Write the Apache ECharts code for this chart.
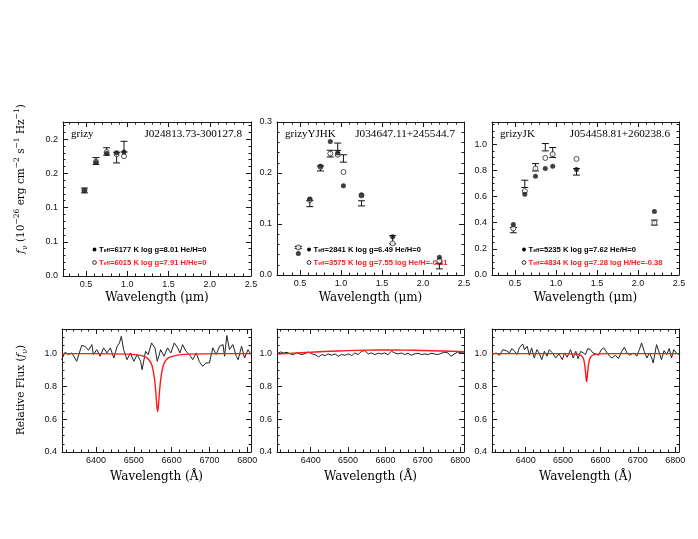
<!DOCTYPE html>
<html><head><meta charset="utf-8">
<script src="https://cdn.jsdelivr.net/npm/echarts@6/dist/echarts.min.js"></script>
<style>html,body{margin:0;padding:0;background:#fff}#c{width:698px;height:539px}</style>
</head><body><div id="c"></div>
<script>
// ---------------- DATA ----------------
// SED panels: band wavelengths (micron), observed flux, error, filled-model (H), open-model (He)
const sedBands1 = [0.48, 0.62, 0.75, 0.87, 0.96];
const sedObs1   = [0.125, 0.168, 0.182, 0.173, 0.189];
const sedErr1   = [0.0035, 0.005, 0.0054, 0.0078, 0.0078];
const sedFill1  = [0.125, 0.166, 0.179, 0.180, 0.181];
const sedOpen1  = [0.125, 0.167, 0.181, 0.178, 0.175];

const sedBands2 = [0.48, 0.62, 0.75, 0.87, 0.96, 1.03, 1.25, 1.63, 2.2];
const sedObs2   = [0.054, 0.140, 0.209, 0.238, 0.2515, 0.2285, 0.1405, 0.069, 0.017];
const sedErr2   = [0.002, 0.006, 0.005, 0.0066, 0.0072, 0.0072, 0.005, 0.008, 0.005];
const sedFill2  = [0.042, 0.149, 0.213, 0.262, 0.239, 0.175, 0.157, 0.075, 0.035];
const sedOpen2  = [0.054, 0.147, 0.212, 0.238, 0.236, 0.202, 0.156, 0.062, 0.028];

const sedBands3 = [0.48, 0.62, 0.75, 0.87, 0.96, 1.25, 2.2];
const sedObs3   = [0.343, 0.697, 0.824, 0.977, 0.937, 0.789, 0.401];
const sedErr3   = [0.020, 0.028, 0.028, 0.028, 0.038, 0.025, 0.019];
const sedFill3  = [0.387, 0.618, 0.756, 0.815, 0.832, 0.807, 0.486];
const sedOpen3  = [0.356, 0.641, 0.815, 0.895, 0.924, 0.888, 0.399];

// Spectra (Angstrom, relative flux)
const spec1Wave = [6309,6318,6327,6336,6349,6362,6371,6380,6389,6393,6402,6411,6420,6429,6438,6447,6456,6462,6467,6473,6482,6491,6500,6509,6518,6522,6531,6538,6547,6556,6562,6571,6580,6589,6598,6607,6616,6622,6629,6638,6647,6656,6665,6673,6682,6691,6700,6709,6718,6727,6736,6740,6746,6753,6762,6771,6776,6785,6793,6802,6810];
const spec1Flux = [0.963,1.008,0.994,1.004,0.953,1.049,1.045,1.020,1.055,0.994,1.024,0.984,1.035,1.004,1.035,0.973,1.045,1.065,1.106,1.024,0.963,1.004,0.953,0.994,0.953,0.902,1.014,0.994,1.065,1.035,0.953,1.024,0.984,1.035,1.004,1.065,1.035,1.004,1.055,1.014,0.994,0.963,1.004,0.953,0.922,0.943,0.943,1.035,0.994,1.045,1.055,0.984,1.11,1.024,1.055,0.984,0.963,1.045,0.973,1.024,0.994];
const model1Wave = [6310,6400,6480,6510,6525,6535,6545,6550,6555,6558,6561,6563,6565,6568,6571,6576,6581,6591,6605,6620,6650,6720,6810];
const model1Flux = [1.0,1.0,0.997,0.992,0.985,0.974,0.945,0.91,0.84,0.77,0.68,0.647,0.68,0.77,0.84,0.91,0.945,0.974,0.985,0.992,0.997,1.0,1.0];

const spec2Wave = [6310,6319,6328,6337,6345,6354,6363,6377,6385,6394,6403,6412,6421,6430,6439,6447,6456,6465,6474,6483,6492,6501,6510,6518,6527,6536,6545,6554,6563,6572,6581,6589,6598,6607,6616,6625,6634,6643,6651,6660,6669,6678,6687,6696,6705,6714,6722,6731,6740,6749,6758,6767,6775,6785,6793,6802,6809];
const spec2Flux = [0.998,1.010,1.004,1.008,0.998,0.994,1.004,0.994,1.000,1.010,0.998,0.994,0.980,0.994,0.988,0.998,0.990,0.998,0.984,0.994,0.990,0.998,0.988,1.004,0.994,1.014,1.018,0.998,1.004,0.994,1.002,0.998,1.004,0.994,1.014,1.004,0.998,1.004,0.994,1.002,0.990,0.998,1.002,0.994,0.998,0.994,1.002,0.998,0.994,1.002,1.008,1.004,0.984,0.998,1.010,1.004,1.006];
const model2Wave = [6310,6350,6400,6450,6500,6550,6600,6650,6700,6750,6810];
const model2Flux = [0.997,1.003,1.008,1.014,1.018,1.021,1.022,1.021,1.019,1.016,1.012];

const spec3Wave = [6310,6315,6321,6330,6339,6348,6357,6363,6370,6377,6383,6392,6397,6404,6410,6416,6423,6430,6436,6443,6450,6457,6463,6472,6480,6489,6498,6504,6511,6520,6527,6534,6540,6547,6554,6560,6566,6573,6580,6587,6595,6602,6609,6618,6625,6631,6640,6648,6657,6664,6671,6678,6684,6690,6697,6704,6710,6717,6724,6731,6737,6741,6750,6756,6763,6770,6777,6784,6790,6796,6803,6810];
const spec3Flux = [0.994,0.984,1.004,0.990,1.024,1.018,1.004,1.031,1.014,0.994,1.035,1.059,1.024,1.045,0.990,1.035,0.973,1.024,1.004,0.963,1.014,0.984,1.024,1.004,0.973,0.998,0.963,1.004,0.978,1.024,0.973,1.014,0.969,1.014,1.004,0.994,1.031,1.024,1.004,0.998,0.990,1.024,1.035,1.004,0.984,0.973,0.990,0.969,1.014,1.039,1.004,0.990,0.998,1.004,0.984,1.024,1.065,1.014,0.973,1.004,0.973,0.943,1.055,1.014,0.963,1.018,0.994,1.031,0.973,1.024,1.004,0.994];
const model3Wave = [6310,6500,6540,6550,6555,6558,6560,6562,6563,6564,6566,6568,6571,6576,6586,6620,6810];
const model3Flux = [1.0,1.0,0.995,0.985,0.965,0.93,0.89,0.84,0.83,0.84,0.89,0.93,0.965,0.985,0.995,1.0,1.0];

// Tick values / labels
const sedXMajor = [0.5, 1.0, 1.5, 2.0, 2.5];
const sedXLabels = ['0.5', '1.0', '1.5', '2.0', '2.5'];
const sedXMinor = [0.3,0.4,0.6,0.7,0.8,0.9,1.1,1.2,1.3,1.4,1.6,1.7,1.8,1.9,2.1,2.2,2.3,2.4];
const sed1YMajor = [0, 0.05, 0.1, 0.15, 0.2];
const sed1YLabels = ['0.0', '0.1', '0.1', '0.2', '0.2'];
const sed1YMinor = [0.01,0.02,0.03,0.04,0.06,0.07,0.08,0.09,0.11,0.12,0.13,0.14,0.16,0.17,0.18,0.19,0.21,0.22];
const sed2YMajor = [0, 0.1, 0.2, 0.3];
const sed2YLabels = ['0.0', '0.1', '0.2', '0.3'];
const sed2YMinor = [0.02,0.04,0.06,0.08,0.12,0.14,0.16,0.18,0.22,0.24,0.26,0.28];
const sed3YMajor = [0, 0.2, 0.4, 0.6, 0.8, 1.0];
const sed3YLabels = ['0.0', '0.2', '0.4', '0.6', '0.8', '1.0'];
const sed3YMinor = [0.05,0.1,0.15,0.25,0.3,0.35,0.45,0.5,0.55,0.65,0.7,0.75,0.85,0.9,0.95,1.05,1.1,1.15];
const specXMajor = [6400, 6500, 6600, 6700, 6800];
const specXLabels = ['6400', '6500', '6600', '6700', '6800'];
const specXMinor = [6320,6340,6360,6380,6420,6440,6460,6480,6520,6540,6560,6580,6620,6640,6660,6680,6720,6740,6760,6780];
const specYMajor = [0.4, 0.6, 0.8, 1.0];
const specYLabels = ['0.4', '0.6', '0.8', '1.0'];
const specYMinor = [0.45,0.5,0.55,0.65,0.7,0.75,0.85,0.9,0.95,1.05,1.1,1.15];

const panelBands = ['grizy', 'grizyYJHK', 'grizyJK'];
const panelNames = ['J024813.73-300127.8', 'J034647.11+245544.7', 'J054458.81+260238.6'];
const legendFilled = ['=6177 K log g=8.01 He/H=0', '=2841 K log g=6.49 He/H=0', '=5235 K log g=7.62 He/H=0'];
const legendOpen = ['=6015 K log g=7.91 H/He=0', '=3575 K log g=7.55 log He/H=-0.21', '=4834 K log g=7.28 log H/He=-0.38'];

// ---------------- LAYOUT ----------------
const LC = '#1a1a1a';
const TICKF = 'Liberation Sans';
const SERIF = 'DejaVu Serif';
const grids = [
  {left: 63, top: 122, width: 188, height: 154},
  {left: 277, top: 122, width: 187, height: 153},
  {left: 492, top: 122, width: 187, height: 153},
  {left: 62, top: 329, width: 189, height: 123},
  {left: 277, top: 329, width: 187, height: 123},
  {left: 492, top: 329, width: 187, height: 123}
];

function axisSet(dim, g, min, max, major, labels, minor) {
  const mainPos = dim === 'x' ? 'bottom' : 'left';
  const oppPos = dim === 'x' ? 'top' : 'right';
  const base = {type: 'value', gridIndex: g, min: min, max: max, splitLine: {show: false}, axisPointer: {show: false}};
  const fmt = function (v) {
    const i = major.findIndex(m => Math.abs(m - v) < 1e-7);
    return i >= 0 ? labels[i] : '';
  };
  return [
    Object.assign({}, base, {position: mainPos,
      axisLine: {show: true, onZero: false, lineStyle: {color: LC, width: 1}},
      axisTick: {show: true, inside: true, length: 5, customValues: major, lineStyle: {color: LC}},
      axisLabel: {show: true, customValues: major, formatter: fmt, margin: dim === 'x' ? 4 : 5,
        fontSize: 9, fontFamily: TICKF, color: '#111'}}),
    Object.assign({}, base, {position: mainPos,
      axisLine: {show: false, onZero: false},
      axisTick: {show: true, inside: true, length: 2.5, customValues: minor, lineStyle: {color: LC}},
      axisLabel: {show: false}}),
    Object.assign({}, base, {position: oppPos,
      axisLine: {show: true, onZero: false, lineStyle: {color: LC, width: 1}},
      axisTick: {show: true, inside: true, length: 5, customValues: major, lineStyle: {color: LC}},
      axisLabel: {show: false}}),
    Object.assign({}, base, {position: oppPos,
      axisLine: {show: false, onZero: false},
      axisTick: {show: true, inside: true, length: 2.5, customValues: minor, lineStyle: {color: LC}},
      axisLabel: {show: false}})
  ];
}

const xAxes = [], yAxes = [];
const sedY = [[0, 0.225, sed1YMajor, sed1YLabels, sed1YMinor], [0, 0.3, sed2YMajor, sed2YLabels, sed2YMinor], [0, 1.17, sed3YMajor, sed3YLabels, sed3YMinor]];
for (let g = 0; g < 3; g++) {
  xAxes.push(...axisSet('x', g, 0.22, 2.5, sedXMajor, sedXLabels, sedXMinor));
  yAxes.push(...axisSet('y', g, ...sedY[g]));
}
for (let g = 3; g < 6; g++) {
  xAxes.push(...axisSet('x', g, 6310, 6810, specXMajor, specXLabels, specXMinor));
  yAxes.push(...axisSet('y', g, 0.4, 1.15, specYMajor, specYLabels, specYMinor));
}

function zip(a, b) { return a.map((v, i) => [v, b[i]]); }
function zip3(a, b, c) { return a.map((v, i) => [v, b[i], c[i]]); }

function errorRender(params, api) {
  const x = api.value(0), y = api.value(1), e = api.value(2);
  const lo = api.coord([x, y - e]);
  const hi = api.coord([x, y + e]);
  const w = 3.5;
  const st = {stroke: '#111', lineWidth: 1};
  return {type: 'group', children: [
    {type: 'line', shape: {x1: lo[0], y1: lo[1], x2: hi[0], y2: hi[1]}, style: st},
    {type: 'line', shape: {x1: lo[0] - w, y1: lo[1], x2: lo[0] + w, y2: lo[1]}, style: st},
    {type: 'line', shape: {x1: hi[0] - w, y1: hi[1], x2: hi[0] + w, y2: hi[1]}, style: st}
  ]};
}

const sedSets = [
  [sedBands1, sedObs1, sedErr1, sedFill1, sedOpen1],
  [sedBands2, sedObs2, sedErr2, sedFill2, sedOpen2],
  [sedBands3, sedObs3, sedErr3, sedFill3, sedOpen3]
];
const series = [];
sedSets.forEach((s, g) => {
  const ax = {xAxisIndex: 4 * g, yAxisIndex: 4 * g};
  series.push(Object.assign({type: 'custom', renderItem: errorRender, data: zip3(s[0], s[1], s[2]),
    encode: {x: 0, y: 1}, z: 2, silent: true}, ax));
  series.push(Object.assign({type: 'scatter', data: zip(s[0], s[4]), symbol: 'circle', symbolSize: 5,
    itemStyle: {color: '#fff', borderColor: '#111', borderWidth: 0.9}, z: 3, silent: true}, ax));
  series.push(Object.assign({type: 'scatter', data: zip(s[0], s[3]), symbol: 'circle', symbolSize: 5,
    itemStyle: {color: '#111'}, z: 4, silent: true}, ax));
});
const specSets = [
  [spec1Wave, spec1Flux, model1Wave, model1Flux],
  [spec2Wave, spec2Flux, model2Wave, model2Flux],
  [spec3Wave, spec3Flux, model3Wave, model3Flux]
];
specSets.forEach((s, i) => {
  const g = i + 3;
  const ax = {xAxisIndex: 4 * g, yAxisIndex: 4 * g};
  series.push(Object.assign({type: 'line', data: zip(s[0], s[1]), showSymbol: false, clip: true,
    lineStyle: {color: '#222', width: 1}, z: 2, silent: true}, ax));
  series.push(Object.assign({type: 'line', data: zip(s[2], s[3]), showSymbol: false, smooth: 0.3, clip: true,
    lineStyle: {color: '#ff1a1a', width: 1.4}, z: 3, silent: true}, ax));
});

// ---------------- TEXT ----------------
const graphics = [];
function txt(x, y, text, font, align, extra) {
  graphics.push(Object.assign({type: 'text', x: x, y: y, silent: true,
    style: Object.assign({text: text, font: font, fill: '#000', align: align || 'left', verticalAlign: 'middle'}, extra || {})}));
}
const legX = [94.5, 309, 524];
for (let p = 0; p < 3; p++) {
  const gl = grids[p];
  txt(gl.left + 8, 134, panelBands[p], '11px Liberation Serif', 'left');
  txt(gl.left + gl.width - 9, 134, panelNames[p], '11.2px Liberation Serif', 'right');
  graphics.push({type: 'circle', shape: {cx: legX[p], cy: 249.5, r: 1.9}, style: {fill: '#000'}, silent: true});
  graphics.push({type: 'circle', shape: {cx: legX[p], cy: 262.5, r: 1.9}, style: {fill: '#fff', stroke: '#000', lineWidth: 0.8}, silent: true});
  const richB = {m: {font: 'bold 7.6px Liberation Sans', fill: '#000'}, s: {font: 'bold 5.2px Liberation Sans', fill: '#000', verticalAlign: 'bottom', lineHeight: 6}};
  const richR = {m: {font: 'bold 7.6px Liberation Sans', fill: '#ff1a1a'}, s: {font: 'bold 5.2px Liberation Sans', fill: '#ff1a1a', verticalAlign: 'bottom', lineHeight: 6}};
  txt(legX[p] + 4.5, 249.5, '{m|T}{s|eff}{m|' + legendFilled[p] + '}', 'bold 7.6px Liberation Sans', 'left', {rich: richB});
  txt(legX[p] + 4.5, 262.5, '{m|T}{s|eff}{m|' + legendOpen[p] + '}', 'bold 7.6px Liberation Sans', 'left', {rich: richR});
  txt(gl.left + gl.width / 2, 298, 'Wavelength (\u03bcm)', '12px ' + SERIF, 'center');
  const gb = grids[p + 3];
  txt(gb.left + gb.width / 2, 477, 'Wavelength (\u00c5)', '12px ' + SERIF, 'center');
}
// y-axis titles (rotated)
const richY = {
  n: {font: '10.5px ' + SERIF, fill: '#000', lineHeight: 16},
  i: {font: 'italic 10.5px ' + SERIF, fill: '#000', lineHeight: 16},
  sup: {font: '7.5px ' + SERIF, fill: '#000', verticalAlign: 'top', lineHeight: 8},
  sub: {font: '7.5px ' + SERIF, fill: '#000', verticalAlign: 'bottom', lineHeight: 8}
};
graphics.push({type: 'text', x: 21, y: 179, rotation: Math.PI / 2, silent: true,
  style: {text: '{i|f}{sub|\u03bd}{n| (10}{sup|\u221226}{n| erg cm}{sup|\u22122}{n| s}{sup|\u22121}{n| Hz}{sup|\u22121}{n|)}',
    rich: richY, align: 'center', verticalAlign: 'middle', font: '10.5px ' + SERIF}});
graphics.push({type: 'text', x: 21, y: 390, rotation: Math.PI / 2, silent: true,
  style: {text: '{n|Relative Flux (}{i|f}{sub|\u03bd}{n|)}',
    rich: richY, align: 'center', verticalAlign: 'middle', font: '10.5px ' + SERIF}});

const chart = echarts.init(document.getElementById('c'), null, {renderer: 'canvas'});
chart.setOption({
  animation: false,
  backgroundColor: '#fff',
  grid: grids.map(g => Object.assign({containLabel: false, outerBoundsMode: 'none'}, g)),
  xAxis: xAxes,
  yAxis: yAxes,
  series: series,
  graphic: graphics
});
</script>
</body></html>
